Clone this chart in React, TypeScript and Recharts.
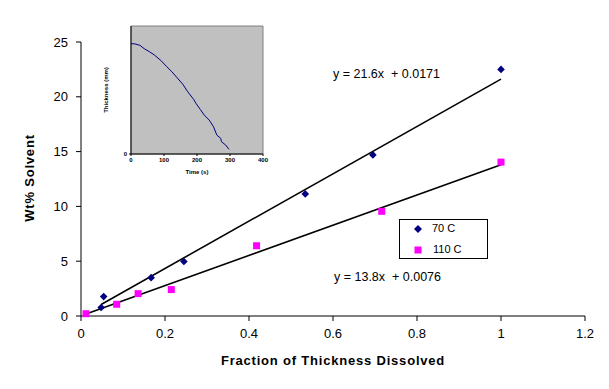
import { ScatterChart, Scatter, XAxis, YAxis, ReferenceLine, Legend, Label, LineChart, Line, ReferenceArea } from 'recharts'

// main chart data
const frac70 = [0.048, 0.054, 0.167, 0.245, 0.534, 0.695, 1.0]
const wt70 = [0.78, 1.77, 3.5, 4.97, 11.14, 14.7, 22.5]
const frac110 = [0.012, 0.085, 0.136, 0.215, 0.418, 0.716, 1.0]
const wt110 = [0.21, 1.07, 2.04, 2.41, 6.41, 9.55, 14.04]
const xTicks = [0, 0.2, 0.4, 0.6, 0.8, 1, 1.2]
const yTicks = [0, 5, 10, 15, 20, 25]

// trendlines as printed on the chart
const fit70 = { slope: 21.6, intercept: 0.0171 }
const fit110 = { slope: 13.8, intercept: 0.0076 }

// inset: thickness vs time
const insetTime = [0, 12, 27, 40, 57, 72, 92, 107, 124, 140, 157, 172, 190, 197, 210, 222, 237, 250, 260, 272, 274, 287, 297]
const insetThickness = [0.862, 0.86, 0.849, 0.823, 0.797, 0.771, 0.727, 0.686, 0.642, 0.595, 0.545, 0.486, 0.426, 0.395, 0.348, 0.304, 0.265, 0.213, 0.148, 0.122, 0.096, 0.07, 0.036]
const insetXTicks = [0, 100, 200, 300, 400]

const data70 = frac70.map((x, i) => ({ x, y: wt70[i] }))
const data110 = frac110.map((x, i) => ({ x, y: wt110[i] }))
const insetData = insetTime.map((t, i) => ({ t, h: insetThickness[i] }))

const trend = (xs: number[], fit: { slope: number; intercept: number }) => {
  const x0 = Math.min(...xs)
  const x1 = Math.max(...xs)
  return [
    { x: x0, y: fit.slope * x0 + fit.intercept },
    { x: x1, y: fit.slope * x1 + fit.intercept },
  ]
}

const font = '"Liberation Sans", Arial, sans-serif'

const Diamond = (props: any) => {
  const { cx, cy } = props
  const r = 3.8
  return <polygon points={`${cx},${cy - r} ${cx + r},${cy} ${cx},${cy + r} ${cx - r},${cy}`} fill="#000080" />
}

const Square = (props: any) => {
  const { cx, cy } = props
  return <rect x={cx - 3.5} y={cy - 3.5} width={7} height={7} fill="#FF00FF" />
}

const LegendBox = () => (
  <div style={{ width: 89, height: 40, border: '1px solid #000', background: '#fff', boxSizing: 'border-box', fontFamily: font, fontSize: 11, position: 'relative' }}>
    <svg width={10} height={10} style={{ position: 'absolute', left: 13, top: 4 }}>
      <polygon points="5,1 9,5 5,9 1,5" fill="#000080" />
    </svg>
    <span style={{ position: 'absolute', left: 32, top: 2 }}>70 C</span>
    <svg width={10} height={10} style={{ position: 'absolute', left: 13, top: 25 }}>
      <rect x={1.5} y={1.5} width={7} height={7} fill="#FF00FF" />
    </svg>
    <span style={{ position: 'absolute', left: 33, top: 23 }}>110 C</span>
  </div>
)

function Inset() {
  const tick = { fontSize: 6, fontWeight: 700, fill: '#000', fontFamily: font }
  return (
    <LineChart width={185} height={170} data={insetData} margin={{ top: 12, right: 17, bottom: 16, left: 0 }}>
      <ReferenceArea x1={0} x2={400} y1={0} y2={1} fill="#C0C0C0" fillOpacity={1} stroke="#808080" ifOverflow="visible" />
      <XAxis dataKey="t" type="number" domain={[0, 400]} ticks={insetXTicks} tick={tick} tickSize={2} axisLine={{ stroke: '#000' }} tickLine={{ stroke: '#000' }} height={14}>
        <Label content={() => <text x={102} y={160} textAnchor="middle" fontSize={6} fontWeight={700} fontFamily={font}>Time (s)</text>} />
      </XAxis>
      <YAxis type="number" domain={[0, 1]} ticks={[0]} tick={tick} tickSize={2} axisLine={{ stroke: '#000' }} tickLine={{ stroke: '#000' }} width={36}>
        <Label content={() => <text x={13} y={76} transform="rotate(-90 13 76)" textAnchor="middle" fontSize={6} fontWeight={700} fontFamily={font}>Thickness (mm)</text>} />
      </YAxis>
      <Line dataKey="h" type="linear" stroke="#000080" strokeWidth={1} dot={false} isAnimationActive={false} />
    </LineChart>
  )
}

export default function App() {
  const tick = { fontSize: 13, fill: '#000', fontFamily: font }
  return (
    <div style={{ position: 'absolute', left: 0, top: 0, width: 609, height: 389, background: '#fff' }}>
      <ScatterChart width={609} height={389} margin={{ top: 42, right: 24, bottom: 43, left: 0 }}>
        <XAxis dataKey="x" type="number" domain={[0, 1.2]} ticks={xTicks} tick={tick} tickSize={5} tickMargin={8} axisLine={{ stroke: '#000' }} tickLine={{ stroke: '#000' }} height={30}>
          <Label content={() => <text x={333} y={365} textAnchor="middle" fontSize={13} fontWeight={700} letterSpacing={0.8} fontFamily={font}>Fraction of Thickness Dissolved</text>} />
        </XAxis>
        <YAxis dataKey="y" type="number" domain={[0, 25]} ticks={yTicks} tick={tick} tickSize={5} tickMargin={8} axisLine={{ stroke: '#000' }} tickLine={{ stroke: '#000' }} width={81}>
          <Label content={() => <text x={34} y={178} transform="rotate(-90 34 178)" textAnchor="middle" fontSize={13} fontWeight={700} letterSpacing={0.8} fontFamily={font}>Wt% Solvent</text>} />
        </YAxis>
        <ReferenceLine segment={trend(frac70, fit70)} stroke="#000" strokeWidth={1.6} ifOverflow="visible" />
        <ReferenceLine segment={trend(frac110, fit110)} stroke="#000" strokeWidth={1.6} ifOverflow="visible" />
        <Scatter name="70 C" data={data70} shape={Diamond} isAnimationActive={false} />
        <Scatter name="110 C" data={data110} shape={Square} isAnimationActive={false} />
        <Legend layout="vertical" align="center" verticalAlign="middle" content={<LegendBox />} wrapperStyle={{ left: 399, top: 219, width: 89, height: 40 }} />
      </ScatterChart>
      <div style={{ position: 'absolute', left: 333, top: 67, fontFamily: font, fontSize: 12.5, whiteSpace: 'pre' }}>y = 21.6x  + 0.0171</div>
      <div style={{ position: 'absolute', left: 334, top: 270, fontFamily: font, fontSize: 12.5, whiteSpace: 'pre' }}>y = 13.8x  + 0.0076</div>
      <div style={{ position: 'absolute', left: 95, top: 14 }}>
        <Inset />
      </div>
    </div>
  )
}
